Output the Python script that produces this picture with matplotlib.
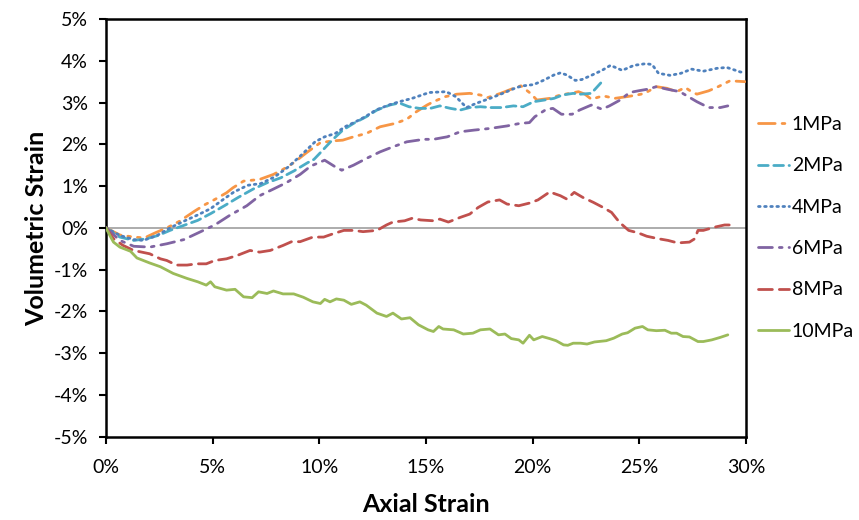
import matplotlib
matplotlib.use('Agg')
import matplotlib.pyplot as plt
from matplotlib.ticker import PercentFormatter, MultipleLocator

plt.rcParams['font.family'] = ['Lato', 'DejaVu Sans']
plt.rcParams['axes.unicode_minus'] = False

# 数据 (单位: %)
x_1mpa = [0, 0.65, 1.3, 1.8, 2.3, 2.85, 3.45, 4.15, 4.65, 5.1, 5.65, 5.95, 6.45, 7.2, 7.85,
          8.3, 8.8, 9.4, 10.05, 10.6, 11.1, 11.6, 12.2, 12.85, 13.55, 14.1, 14.55, 15.05,
          15.35, 15.9, 16.45, 17.05, 17.55, 17.9, 18.5, 19.1, 19.45, 19.9, 20.2, 20.8,
          21.3, 21.75, 22.15, 22.45, 22.75, 23.3, 23.85, 24.4, 24.9, 25.25, 25.8, 26.3,
          26.75, 27.15, 27.45, 27.7, 28.25, 28.7, 29.25, 29.95]
y_1mpa = [0, -0.17, -0.22, -0.24, -0.12, 0.0, 0.16, 0.40, 0.56, 0.68, 0.84, 0.96, 1.12, 1.16,
          1.28, 1.40, 1.56, 1.80, 2.04, 2.08, 2.10, 2.18, 2.26, 2.42, 2.50, 2.60, 2.78, 2.94,
          3.02, 3.14, 3.20, 3.22, 3.18, 3.12, 3.22, 3.34, 3.40, 3.22, 3.06, 3.10, 3.18, 3.22,
          3.26, 3.20, 3.08, 3.16, 3.10, 3.14, 3.18, 3.22, 3.38, 3.34, 3.26, 3.36, 3.26, 3.20,
          3.28, 3.38, 3.52, 3.50]

x_2mpa = [0, 0.65, 1.3, 1.9, 2.45, 3.0, 3.65, 4.3, 4.9, 5.55, 6.2, 6.9, 7.55, 8.2, 8.8,
          9.45, 9.75, 10.05, 10.6, 11.1, 11.6, 12.2, 12.7, 13.3, 13.75, 14.2, 14.7, 15.2,
          15.65, 16.15, 16.6, 17.05, 17.55, 18.05, 18.55, 19.1, 19.55, 20.05, 20.55, 21.0,
          21.4, 21.9, 22.25, 22.75, 23.25]
y_2mpa = [0, -0.22, -0.30, -0.26, -0.18, -0.06, 0.06, 0.18, 0.34, 0.53, 0.73, 0.93, 1.08,
          1.20, 1.36, 1.56, 1.64, 1.80, 2.10, 2.34, 2.50, 2.66, 2.82, 2.94, 2.99, 2.90, 2.86,
          2.86, 2.92, 2.86, 2.82, 2.88, 2.90, 2.88, 2.88, 2.92, 2.90, 3.02, 3.06, 3.10, 3.18,
          3.22, 3.20, 3.22, 3.50]

x_4mpa = [0, 0.65, 1.3, 1.75, 2.4, 3.0, 3.65, 4.3, 4.9, 5.55, 6.0, 6.65, 7.25, 7.9, 8.55,
          9.15, 9.8, 10.25, 10.75, 11.2, 11.7, 12.15, 12.65, 13.25, 13.75, 14.35, 15.15,
          15.95, 16.4, 16.9, 17.35, 18.0, 18.6, 19.25, 19.55, 20.05, 20.5, 21.0, 21.3, 21.6,
          22.0, 22.3, 22.75, 23.25, 23.65, 24.2, 24.75, 25.3, 25.6, 25.9, 26.45, 26.95,
          27.45, 28.0, 28.65, 29.1, 29.4, 29.75, 29.95]
y_4mpa = [0, -0.18, -0.28, -0.30, -0.18, 0.0, 0.16, 0.31, 0.46, 0.70, 0.86, 1.02, 1.06,
          1.22, 1.46, 1.74, 2.06, 2.18, 2.26, 2.42, 2.54, 2.66, 2.82, 2.94, 3.02, 3.10, 3.24,
          3.26, 3.14, 2.88, 2.98, 3.10, 3.22, 3.36, 3.40, 3.43, 3.53, 3.66, 3.71, 3.66, 3.53,
          3.55, 3.65, 3.77, 3.89, 3.77, 3.89, 3.93, 3.91, 3.70, 3.65, 3.70, 3.80, 3.75, 3.82,
          3.84, 3.79, 3.73, 3.73]

x_6mpa = [0, 0.65, 1.3, 2.05, 2.85, 3.65, 4.4, 5.1, 5.8, 6.6, 7.2, 7.85, 8.45, 9.1, 9.6,
          10.25, 10.75, 11.05, 11.6, 12.2, 12.85, 13.45, 14.1, 14.9, 15.35, 16.0, 16.6, 17.25,
          18.0, 18.8, 19.4, 19.85, 20.1, 20.65, 20.95, 21.35, 21.85, 22.2, 22.75, 23.25,
          23.6, 24.1, 24.55, 24.95, 25.4, 25.8, 26.3, 26.9, 27.3, 27.7, 28.25, 28.8, 29.15]
y_6mpa = [0, -0.30, -0.44, -0.46, -0.38, -0.28, -0.10, 0.07, 0.30, 0.53, 0.77, 0.93, 1.08,
          1.28, 1.48, 1.62, 1.46, 1.38, 1.50, 1.66, 1.82, 1.94, 2.06, 2.12, 2.12, 2.18, 2.30,
          2.34, 2.38, 2.44, 2.50, 2.52, 2.66, 2.84, 2.86, 2.72, 2.72, 2.82, 2.94, 2.84, 2.92,
          3.06, 3.24, 3.28, 3.32, 3.38, 3.32, 3.26, 3.14, 3.02, 2.88, 2.88, 2.92]

x_8mpa = [0, 0.35, 0.8, 1.3, 2.05, 2.55, 2.85, 3.3, 3.8, 4.25, 4.7, 5.1, 5.65, 6.15, 6.75,
          7.2, 7.7, 8.3, 8.7, 9.1, 9.7, 10.2, 10.65, 11.15, 11.6, 12.05, 12.7, 13.15, 13.45,
          14.0, 14.35, 14.75, 15.35, 15.65, 16.05, 16.6, 17.05, 17.45, 17.9, 18.45, 18.8,
          19.35, 19.9, 20.25, 20.8, 21.3, 21.6, 21.95, 22.35, 22.85, 23.3, 23.7, 23.95,
          24.1, 24.5, 24.95, 25.35, 25.9, 26.35, 26.8, 27.35, 27.6, 27.75, 28.0, 28.55,
          29.0, 29.5]
y_8mpa = [0, -0.26, -0.42, -0.54, -0.62, -0.74, -0.78, -0.89, -0.89, -0.86, -0.86, -0.78,
          -0.74, -0.66, -0.54, -0.58, -0.54, -0.42, -0.33, -0.33, -0.22, -0.22, -0.14, -0.06,
          -0.06, -0.09, -0.06, 0.07, 0.14, 0.17, 0.23, 0.19, 0.17, 0.21, 0.14, 0.25, 0.33,
          0.49, 0.62, 0.67, 0.57, 0.53, 0.60, 0.67, 0.86, 0.77, 0.69, 0.85, 0.73, 0.61, 0.49,
          0.37, 0.21, 0.12, -0.06, -0.12, -0.20, -0.26, -0.30, -0.36, -0.34, -0.26, -0.06,
          -0.06, 0.02, 0.07, 0.07]

x_10mpa = [0, 0.2, 0.35, 0.65, 1.15, 1.45, 2.05, 2.55, 3.15, 3.8, 4.3, 4.7, 4.9, 5.1, 5.65,
           6.05, 6.45, 6.85, 7.15, 7.55, 7.85, 8.3, 8.8, 9.25, 9.7, 10.05, 10.25, 10.5, 10.8,
           11.15, 11.5, 11.9, 12.2, 12.7, 13.15, 13.45, 13.85, 14.25, 14.65, 15.1, 15.35,
           15.6, 15.8, 16.3, 16.75, 17.2, 17.55, 18.0, 18.4, 18.7, 19.0, 19.35, 19.55, 19.85,
           20.05, 20.45, 20.8, 21.1, 21.45, 21.65, 21.9, 22.25, 22.55, 22.9, 23.45, 23.8,
           24.2, 24.45, 24.8, 25.15, 25.4, 25.8, 26.2, 26.5, 26.75, 27.05, 27.35, 27.75, 28.0,
           28.4, 28.8, 29.15]
y_10mpa = [0, -0.2, -0.34, -0.46, -0.56, -0.72, -0.84, -0.93, -1.09, -1.21, -1.29, -1.37,
           -1.29, -1.41, -1.49, -1.47, -1.65, -1.67, -1.53, -1.57, -1.51, -1.58, -1.58, -1.66,
           -1.77, -1.81, -1.71, -1.77, -1.70, -1.73, -1.83, -1.77, -1.85, -2.04, -2.12, -2.04,
           -2.18, -2.15, -2.32, -2.44, -2.48, -2.36, -2.42, -2.44, -2.54, -2.52, -2.44, -2.42,
           -2.56, -2.54, -2.65, -2.68, -2.76, -2.57, -2.68, -2.60, -2.65, -2.70, -2.80, -2.81,
           -2.76, -2.76, -2.78, -2.73, -2.70, -2.64, -2.54, -2.51, -2.40, -2.36, -2.44, -2.46,
           -2.45, -2.52, -2.52, -2.60, -2.61, -2.72, -2.72, -2.68, -2.62, -2.56]

series = [
    ('1MPa', x_1mpa, y_1mpa, '#F79646', (0, (6, 2.5, 1, 2.5, 1, 2.5))),
    ('2MPa', x_2mpa, y_2mpa, '#4BACC6', (0, (3.5, 2))),
    ('4MPa', x_4mpa, y_4mpa, '#4F81BD', (0, (0.6, 1.6))),
    ('6MPa', x_6mpa, y_6mpa, '#8064A2', (0, (5, 2.5, 1, 2.5))),
    ('8MPa', x_8mpa, y_8mpa, '#C0504D', (0, (5, 2.5))),
    ('10MPa', x_10mpa, y_10mpa, '#9BBB59', '-'),
]

fig = plt.figure(figsize=(8.59, 5.2), dpi=100)
ax = fig.add_axes([0.1234, 0.16, 0.745, 0.8035])

ax.axhline(0, color='#A6A6A6', lw=1.3, zorder=1)

for name, xs, ys, color, ls in series:
    ax.plot(xs, ys, color=color, linestyle=ls, lw=2.0, label=name,
            dash_capstyle='round', solid_capstyle='round', zorder=3)

ax.set_xlim(0, 30)
ax.set_ylim(-5, 5)
ax.xaxis.set_major_locator(MultipleLocator(5))
ax.yaxis.set_major_locator(MultipleLocator(1))
ax.xaxis.set_major_formatter(PercentFormatter(decimals=0))
ax.yaxis.set_major_formatter(PercentFormatter(decimals=0))
ax.tick_params(direction='out', length=5, width=1.5, labelsize=14, colors='black', pad=8)
ax.tick_params(axis='x', pad=11)

for sp in ax.spines.values():
    sp.set_linewidth(1.8)
    sp.set_color('black')

ax.set_xlabel('Axial Strain', fontsize=18, fontweight='bold', labelpad=12)
ax.set_ylabel('Volumetric Strain', fontsize=18, fontweight='bold', labelpad=4)

ax.legend(loc='center left', bbox_to_anchor=(1.0, 0.5), frameon=False, fontsize=14,
          handlelength=1.6, handletextpad=0.15, labelspacing=1.25, borderaxespad=0.2)

fig.savefig('out.png', dpi=100)
